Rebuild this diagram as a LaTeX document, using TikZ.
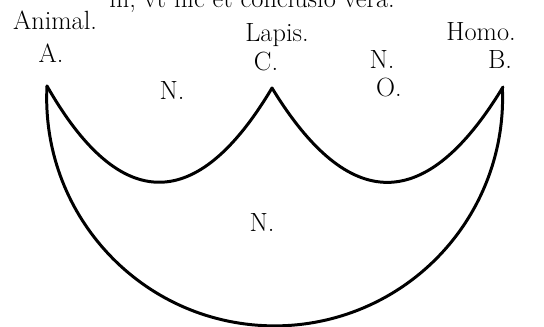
\documentclass[tikz,border=0pt]{standalone}
\usetikzlibrary{positioning}
\tikzset{
  lab/.style={font=\fontsize{15}{17}\selectfont, inner sep=0pt, anchor=base},
  bow/.style={line width=1.7pt, line join=round, line cap=round}
}
\begin{document}
\begin{tikzpicture}[x=0.02cm, y=-0.02cm]
  \useasboundingbox (0,0) rectangle (544,327);
  % heading, cut by the page edge
  \node[lab] (head) at (252,8) {ni, vt hic et conclusio vera.};
  % terms
  \node[lab] (animal) at (55,30) {Animal.};
  \node[lab] (A) at (51,63) {A.};
  \node[lab] (lapis) at (277,42) {Lapis.};
  \node[lab] (C) at (266,71) {C.};
  \node[lab] (homo) at (481,41) {Homo.};
  \node[lab] (B) at (500,69) {B.};
  % regions
  \node[lab] (nl) at (172,100) {N.};
  \node[lab] (nr) at (382,69) {N.};
  \node[lab] (or) at (389,97) {O.};
  \node[lab] (nb) at (262,232) {N.};
  % cusps
  \coordinate (a) at (47,86);
  \coordinate (c) at (272,88);
  \coordinate (b) at (503,87);
  \draw[bow] (a) .. controls (120,214) and (197,214) .. (c);
  \draw[bow] (c) .. controls (349,214) and (426,214) .. (b);
  \draw[bow] (a) arc[start angle=177, end angle=362.5, radius=4.56cm];
\end{tikzpicture}
\end{document}
